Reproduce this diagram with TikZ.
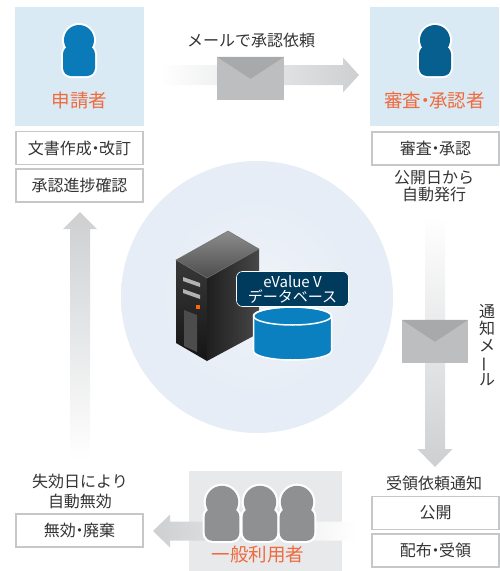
\documentclass[tikz,border=0pt]{standalone}
\usepackage{fontspec}
\setmainfont{Noto Sans CJK JP}
\usetikzlibrary{calc}

\definecolor{txtgray}{HTML}{333333}
\definecolor{linegray}{HTML}{C6C7C9}
\definecolor{paleblue}{HTML}{D9EAF4}
\definecolor{palegray}{HTML}{E8E9EA}
\definecolor{orangered}{HTML}{EF6A3D}
\definecolor{iconblue}{HTML}{0A7BB8}
\definecolor{icondark}{HTML}{065F8E}
\definecolor{icongray}{HTML}{8E9092}
\definecolor{arrowgray}{HTML}{CDCFD1}
\definecolor{envbody}{HTML}{BDBEC0}
\definecolor{envflap}{HTML}{A7A9AB}
\definecolor{glowblue}{HTML}{E7EDF6}
\definecolor{dbblue}{HTML}{0A80C0}
\definecolor{dbnavy}{HTML}{003A5C}

\pgfdeclareradialshading{glow}{\pgfpoint{0bp}{0bp}}%
  {color(0bp)=(glowblue!65!white); color(18bp)=(glowblue); color(34bp)=(glowblue); color(48bp)=(white); color(50bp)=(white)}

% narrow middle dot between words
\newcommand{\midpt}{\kern-.28em・\kern-.28em}

\tikzset{
  taskbox/.style={draw=linegray, line width=1.2pt, fill=white, inner sep=0pt,
    minimum width=127pt, minimum height=33pt, text=txtgray, font=\fontsize{16}{17}\selectfont},
  role/.style={text=orangered, inner sep=0pt, font=\fontsize{18.5}{20}\selectfont},
  note/.style={text=txtgray, align=center, inner sep=0pt, font=\fontsize{16}{17}\selectfont},
  envelope/.style={fill=envbody, inner sep=0pt, minimum width=67pt, minimum height=43pt},
  pics/person/.style={code={
    \fill[white] (0,0) circle (17pt);
    \fill[white, rounded corners=10pt] (-18,4) rectangle (18,38);
    \fill[#1] (0,0) circle (15pt);
    \fill[#1, rounded corners=8pt] (-16,6) rectangle (16,36);
  }}
}

\begin{document}
\begin{tikzpicture}[x=1pt, y=-1pt]
  \useasboundingbox (0,0) rectangle (500,571);
  % soft halo behind the server
  \shade[shading=glow] (257,297) circle (136pt);

  % request mail: applicant -> reviewer
  \coordinate (reqTail) at (160,75);
  \coordinate (reqTip)  at (359,75);
  \shade[left color=white, right color=arrowgray]
    ($(reqTail)+(0,-10)$) -- ($(reqTip)+(-16,-10)$) -- ($(reqTip)+(-16,-17.5)$) -- (reqTip)
    -- ($(reqTip)+(-16,17.5)$) -- ($(reqTip)+(-16,10)$) -- ($(reqTail)+(0,10)$) -- cycle;
  \node[envelope] (reqmail) at (250.5,78.5) {};
  \fill[envflap] (reqmail.north west) -- (reqmail.north east) -- ($(reqmail.north)+(0,22)$) -- cycle;
  \node[note] (reqtext) at (251,40) {メールで承認依頼};

  % notice mail: reviewer -> public
  \coordinate (pubTail) at (435,217);
  \coordinate (pubTip)  at (435,467);
  \shade[top color=white, bottom color=arrowgray]
    ($(pubTail)+(-10,0)$) -- ($(pubTip)+(-10,-18)$) -- ($(pubTip)+(-17.5,-18)$) -- (pubTip)
    -- ($(pubTip)+(17.5,-18)$) -- ($(pubTip)+(10,-18)$) -- ($(pubTail)+(10,0)$) -- cycle;
  \node[envelope, minimum width=66pt] (pubmail) at (435,341.5) {};
  \fill[envflap] (pubmail.north west) -- (pubmail.north east) -- ($(pubmail.north)+(0,22)$) -- cycle;
  \node[note, font=\fontsize{16}{17}\selectfont] (pubtext) at (487,345)
    {通\\知\\メ\\\rotatebox[origin=c]{90}{ー}\\ル};

  % progress back to applicant
  \coordinate (backTail) at (80,460);
  \coordinate (backTip)  at (80,212);
  \shade[top color=arrowgray, bottom color=white]
    ($(backTail)+(-10,0)$) -- ($(backTip)+(-10,17)$) -- ($(backTip)+(-17,17)$) -- (backTip)
    -- ($(backTip)+(17,17)$) -- ($(backTip)+(10,17)$) -- ($(backTail)+(10,0)$) -- cycle;

  % applicant
  \fill[paleblue] (15,7) rectangle (144,126);
  \pic at (79,40) {person=iconblue};
  \node[role] (applicant) at (79.5,100) {申請者};
  \node[taskbox] (draft)    at (79.5,148)   {文書作成\midpt 改訂};
  \node[taskbox] (progress) at (79.5,185.5) {承認進捗確認};

  % reviewer / approver
  \fill[paleblue] (370,7) rectangle (499,126);
  \pic at (435,40) {person=icondark};
  \node[role] (reviewer) at (434.5,100) {審査\midpt 承認者};
  \node[taskbox] (approve) at (435.5,148.5) {審査\midpt 承認};
  \node[note] (autopub) at (434,186) {公開日から\\自動発行};

  % server tower
  \shade[top color=black!45, bottom color=black!70] (176,260) -- (228,231) -- (259,249) -- (207,278) -- cycle;
  \shade[top color=black!78, bottom color=black!92] (176,260) -- (207,278) -- (207,361) -- (176,343) -- cycle;
  \shade[left color=black!88, right color=black!72] (207,278) -- (259,249) -- (259,333) -- (207,361) -- cycle;
  \draw[black!55, line width=0.5pt] (176,260) -- (228,231) -- (259,249) -- (207,278) -- cycle;
  \fill[black!30] (183,277) -- (200,283) -- (200,287) -- (183,281) -- cycle;
  \fill[black!30] (183,289) -- (200,295) -- (200,299) -- (183,293) -- cycle;
  \fill[orange!80!red] (195.5,305) rectangle (199.5,309);
  \fill[black!70] (184,310) -- (197,315) -- (197,352) -- (184,346) -- cycle;

  % database
  \filldraw[fill=dbblue, draw=white, line width=1.5pt]
    (253.5,316) -- (253.5,351) arc[start angle=180, end angle=360, x radius=39pt, y radius=9pt]
    -- (331.5,316) arc[start angle=0, end angle=180, x radius=39pt, y radius=9pt] -- cycle;
  \draw[white, line width=1.5pt] (292.5,316) ellipse[x radius=39pt, y radius=9pt];
  \node[fill=dbnavy, draw=white, line width=0.6pt, rounded corners=6pt, inner sep=0pt,
    minimum width=112pt, minimum height=35pt, text=white, align=center,
    font=\fontsize{15}{15}\selectfont] (dblabel) at (292.5,289) {eValue V\\データベース};

  % general users
  \fill[palegray] (189,471) rectangle (342,571);
  \coordinate (useTail) at (357,531);
  \coordinate (useTip)  at (153,531);
  \shade[left color=arrowgray, right color=white]
    ($(useTail)+(0,-9.5)$) -- ($(useTip)+(17,-9.5)$) -- ($(useTip)+(17,-16.5)$) -- (useTip)
    -- ($(useTip)+(17,16.5)$) -- ($(useTip)+(17,9.5)$) -- ($(useTail)+(0,9.5)$) -- cycle;
  \foreach \px in {222,260,297}
    \pic[scale=1.08] at (\px,502) {person=icongray};
  \node[role] (users) at (258,555) {一般利用者};
  \node[note] (notify) at (434,483) {受領依頼通知};
  \node[taskbox] (publish) at (435.5,513)  {公開};
  \node[taskbox] (receive) at (435.5,550.5) {配布\midpt 受領};

  % expiry
  \node[note, font=\fontsize{16}{20}\selectfont] (expire) at (80,491.5) {失効日により\\自動無効};
  \node[taskbox] (dispose) at (79.5,530.5) {無効\midpt 廃棄};
\end{tikzpicture}
\end{document}
